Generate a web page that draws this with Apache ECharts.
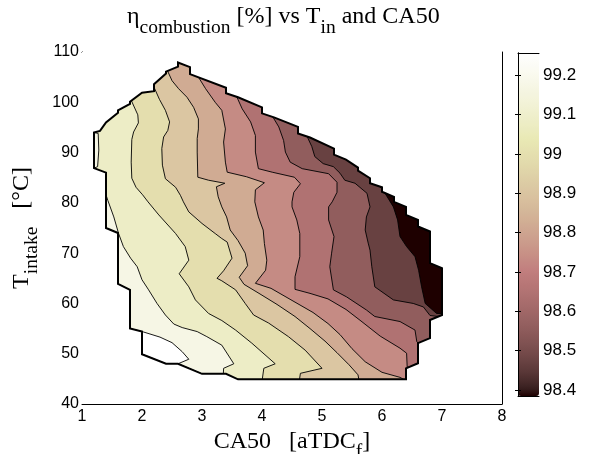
<!DOCTYPE html>
<html>
<head>
<meta charset="utf-8">
<script src="https://cdn.jsdelivr.net/npm/echarts@6/dist/echarts.min.js"></script>
<style>
  html, body { margin: 0; padding: 0; background: #fff; }
  #chart { width: 593px; height: 454px; }
</style>
</head>
<body>
<div id="chart"></div>
<script>
// data region boundary [CA50, T]
var domain = [[1.2,94.0],[1.3,94.3],[1.4,96.0],[1.6,97.9],[1.6,98.4],[1.8,99.7],[1.8,100.1],[2.0,101.9],[2.2,102.2],[2.2,103.6],[2.4,105.7],[2.4,106.1],[2.6,107.1],[2.6,107.9],[2.8,107.0],[2.8,105.6],[3.4,102.9],[3.4,101.8],[3.6,101.0],[4.0,99.0],[4.0,97.8],[4.2,97.0],[4.6,95.1],[4.6,93.8],[4.8,93.0],[5.2,90.8],[5.2,89.6],[5.4,88.6],[5.6,87.0],[5.6,86.4],[5.8,84.9],[5.8,83.9],[6.0,83.1],[6.0,82.2],[6.2,81.2],[6.2,80.2],[6.4,79.2],[6.4,77.6],[6.6,76.6],[6.6,75.3],[6.8,74.3],[6.8,68.0],[7.0,67.0],[7.0,57.7],[6.8,56.7],[6.8,53.1],[6.6,52.1],[6.6,48.1],[6.4,47.1],[6.4,44.9],[3.6,44.9],[3.4,46.0],[3.0,46.0],[2.6,48.0],[2.4,48.0],[2.0,49.9],[2.0,54.4],[1.8,55.0],[1.8,62.7],[1.6,63.9],[1.6,74.0],[1.4,75.0],[1.4,86.0],[1.2,86.9]];
// white (unfilled) pocket
var hole = [[2.0,54.4],[2.0,49.9],[2.4,48.0],[2.6,48.0],[2.78,48.9],[2.67,50.4],[2.5,52.2],[2.3,53.3],[2.03,54.3]];
// small piece of the lightest band at the top left
var sliver = [[1.2,94.0],[1.27,93.8],[1.28,90.5],[1.26,87.2],[1.2,86.9]];

// contour lines, from lightest to darkest
var line1 = [[1.1,81.6],[1.4,81.6],[1.43,80.5],[1.53,77.2],[1.61,73.9],[1.69,71.3],[1.81,69.0],[1.92,67.3],[2.0,64.7],[2.11,62.7],[2.25,60.0],[2.39,57.7],[2.53,55.9],[2.67,55.2],[2.92,54.4],[3.08,53.4],[3.33,51.7],[3.53,48.0],[3.36,47.1],[3.35,44.5]];
var line2 = [[1.82,100.4],[1.93,97.5],[1.94,95.9],[1.86,94.1],[1.83,92.6],[1.82,88.1],[1.83,84.9],[1.90,83.1],[2.01,81.6],[2.10,80.2],[2.28,77.6],[2.56,73.9],[2.72,71.3],[2.78,68.6],[2.62,65.9],[2.78,63.3],[2.89,60.7],[3.11,58.0],[3.33,56.6],[3.56,54.7],[3.83,52.1],[4.22,48.0],[4.03,47.1],[4.0,44.5]];
var line3 = [[2.2,103.0],[2.29,100.6],[2.39,98.4],[2.46,96.1],[2.43,94.4],[2.36,93.1],[2.33,90.8],[2.34,87.5],[2.39,84.8],[2.56,83.1],[2.64,81.5],[2.69,80.2],[2.78,78.2],[3.0,75.9],[3.22,73.9],[3.33,72.9],[3.42,72.2],[3.5,69.0],[3.36,66.5],[3.25,65.0],[3.33,64.5],[3.56,62.7],[3.72,60.0],[3.86,57.7],[4.11,56.1],[4.44,53.4],[4.72,50.7],[5.0,47.1],[4.64,46.1],[4.62,44.5]];
var line4 = [[2.42,106.4],[2.5,104.3],[2.61,102.7],[2.75,101.0],[2.86,99.0],[2.94,96.7],[2.94,94.7],[2.92,92.8],[2.92,90.1],[2.93,85.1],[3.11,84.5],[3.38,83.9],[3.24,83.2],[3.27,81.2],[3.33,79.2],[3.41,77.2],[3.47,74.6],[3.6,72.5],[3.72,70.0],[3.76,67.5],[3.62,65.2],[3.7,63.8],[3.95,62.0],[4.25,59.8],[4.55,57.4],[4.8,55.0],[5.05,52.5],[5.25,50.2],[5.45,47.8],[5.6,45.8],[5.62,44.5]];
var line5 = [[2.92,105.4],[3.06,102.7],[3.22,100.0],[3.33,98.4],[3.39,94.7],[3.36,92.1],[3.39,88.1],[3.42,86.1],[3.74,85.2],[4.04,84.0],[3.89,82.6],[3.88,80.2],[3.94,77.2],[4.02,74.6],[4.04,71.9],[4.08,68.6],[4.06,66.6],[3.89,64.0],[4.15,63.0],[4.5,60.6],[4.85,58.2],[5.1,56.0],[5.3,53.8],[5.5,51.0],[5.72,48.4],[6.0,46.3],[6.3,45.3],[6.42,44.5]];
var line6 = [[3.56,101.6],[3.67,98.7],[3.81,96.1],[3.89,93.4],[3.89,90.1],[3.94,86.8],[4.17,86.1],[4.54,85.1],[4.64,83.8],[4.53,82.1],[4.5,80.2],[4.5,79.2],[4.58,76.6],[4.63,73.9],[4.63,69.3],[4.55,65.3],[4.55,62.8],[4.8,62.0],[5.1,60.9],[5.4,58.8],[5.65,56.5],[5.97,53.5],[6.3,51.1],[6.41,50.1],[6.42,47.3]];
var line7 = [[4.17,97.3],[4.28,95.1],[4.36,92.4],[4.39,90.1],[4.47,88.1],[4.67,86.8],[5.11,85.8],[5.25,84.1],[5.25,82.1],[5.17,80.2],[5.11,79.2],[5.11,76.6],[5.2,73.3],[5.16,70.0],[5.13,67.3],[5.19,62.7],[5.41,61.3],[5.74,58.7],[5.88,57.4],[6.3,56.4],[6.55,54.7],[6.58,52.4],[6.61,52.0]];
var line8 = [[4.74,93.5],[4.83,91.2],[4.88,89.2],[5.02,87.8],[5.19,87.2],[5.3,85.9],[5.38,84.5],[5.55,83.9],[5.75,81.9],[5.8,79.2],[5.74,77.2],[5.72,74.6],[5.77,72.0],[5.8,70.6],[5.83,67.3],[5.88,63.3],[6.19,60.7],[6.52,60.0],[6.69,59.3],[6.8,57.6],[6.94,57.4]];
var line9 = [[5.58,87.3],[5.8,85.2],[6.02,82.5],[6.19,79.2],[6.26,76.6],[6.3,73.3],[6.41,71.3],[6.55,69.3],[6.61,66.6],[6.66,63.3],[6.72,60.0],[6.91,58.0],[7.01,58.0]];

// band colour values (pink colormap, caxis 98.385..99.256), lightest first
var bandValues = [99.169, 99.082, 98.995, 98.908, 98.820, 98.733, 98.646, 98.559, 98.472, 98.385];
var cbarTicks = [98.4, 98.5, 98.6, 98.7, 98.8, 98.9, 99, 99.1, 99.2];
var cbarMin = 98.385, cbarMax = 99.256;

// MATLAB pink(64)
function pinkMap(m) {
    var n = Math.floor(3 / 8 * m), out = [];
    for (var i = 1; i <= m; i++) {
        var g0 = (i - 1) / (m - 1);
        var hr = i <= n ? i / n : 1;
        var hg = i <= n ? 0 : (i <= 2 * n ? (i - n) / n : 1);
        var hb = i <= 2 * n ? 0 : (i - 2 * n) / (m - 2 * n);
        var c = [hr, hg, hb].map(function (h) { return Math.round(255 * Math.sqrt((2 * g0 + h) / 3)); });
        out.push('rgb(' + c.join(',') + ')');
    }
    return out;
}

// region right of / below a contour line, closed outside the data region
function rightOf(line) {
    var first = line[0], last = line[line.length - 1];
    return [[first[0], 125]].concat(line, [[10, last[1]], [10, 125]]);
}

var lines = [line1, line2, line3, line4, line5, line6, line7, line8, line9];
var polys = [domain];
var polyValues = [bandValues[0]];
lines.forEach(function (ln, i) {
    polys.push(rightOf(ln));
    polyValues.push(bandValues[i + 1]);
    if (i === 0) { polys.push(sliver); polyValues.push(bandValues[0]); }
});

var chart = echarts.init(document.getElementById('chart'));
var serif = 'Liberation Serif';
var sans = 'Liberation Sans';

function toPts(api, arr) { return arr.map(function (p) { return api.coord(p); }); }

// TeX-like subscripts
function subRich(big, small, lift) {
    return {
        m: { fontFamily: serif, fontSize: big, fontWeight: 'normal', color: '#000', verticalAlign: 'bottom', padding: [0, 0, lift, 0] },
        s: { fontFamily: serif, fontSize: small, fontWeight: 'normal', color: '#000', verticalAlign: 'bottom' }
    };
}

var axisCommon = {
    axisLine: { lineStyle: { color: '#000', width: 1 } },
    axisTick: { inside: true, length: 5, lineStyle: { color: '#000' } },
    splitLine: { show: false }
};

chart.setOption({
    animation: false,
    backgroundColor: '#fff',
    title: {
        text: '{m|η}{s|combustion}{m| [%] vs T}{s|in}{m| and CA50}',
        left: 127, top: 5, padding: 0,
        textStyle: { fontFamily: serif, fontWeight: 'normal', color: '#000', rich: subRich(24, 19.5, 9) }
    },
    grid: [
        { left: 82, top: 52, width: 420, height: 352, outerBoundsMode: 'none' },
        { left: 518, top: 53, width: 21, height: 343, outerBoundsMode: 'none' }
    ],
    visualMap: {
        type: 'continuous', seriesIndex: 0, dimension: 1,
        min: cbarMin, max: cbarMax, calculable: false,
        left: 518, top: 53, itemWidth: 21, itemHeight: 343, padding: 0,
        text: null, inRange: { color: pinkMap(64) }
    },
    xAxis: [
        Object.assign({}, axisCommon, {
            gridIndex: 0, type: 'value', position: 'bottom', min: 1, max: 8, interval: 1,
            axisLabel: { color: '#000', fontFamily: sans, fontSize: 16, margin: 5 },
            name: '{m|CA50   [aTDC}{s|f}{m|]}', nameLocation: 'middle', nameGap: 15,
            nameTextStyle: { fontFamily: serif, color: '#000', rich: subRich(24, 19.5, 8) }
        }),
        Object.assign({}, axisCommon, {
            gridIndex: 0, type: 'value', position: 'top', min: 1, max: 8, interval: 1,
            axisLabel: { show: false }
        }),
        { gridIndex: 1, type: 'value', position: 'bottom', min: 0, max: 1, z: 10,
          axisLine: { lineStyle: { color: '#000' } }, axisTick: { show: false }, axisLabel: { show: false }, splitLine: { show: false } },
        { gridIndex: 1, type: 'value', position: 'top', min: 0, max: 1, z: 10,
          axisLine: { lineStyle: { color: '#000' } }, axisTick: { show: false }, axisLabel: { show: false }, splitLine: { show: false } }
    ],
    yAxis: [
        Object.assign({}, axisCommon, {
            gridIndex: 0, type: 'value', position: 'left', min: 40, max: 110, interval: 10,
            axisLabel: { color: '#000', fontFamily: sans, fontSize: 16, margin: 3 },
            name: '{m|T}{s|intake}{m|   [°C]}', nameLocation: 'middle', nameGap: 36, nameRotate: 90,
            nameTextStyle: { fontFamily: serif, color: '#000', rich: subRich(24, 19.5, 8) }
        }),
        Object.assign({}, axisCommon, {
            gridIndex: 0, type: 'value', position: 'right', min: 40, max: 110, interval: 10,
            axisLabel: { show: false }
        }),
        { gridIndex: 1, type: 'value', position: 'right', min: cbarMin, max: cbarMax, z: 10,
          axisLine: { lineStyle: { color: '#000' } },
          axisTick: { inside: true, length: 3, customValues: cbarTicks, lineStyle: { color: '#000' } },
          axisLabel: { color: '#000', fontFamily: sans, fontSize: 17, margin: 4, customValues: cbarTicks },
          splitLine: { show: false } },
        { gridIndex: 1, type: 'value', position: 'left', min: cbarMin, max: cbarMax, z: 10,
          axisLine: { lineStyle: { color: '#000' } },
          axisTick: { inside: true, length: 3, customValues: cbarTicks, lineStyle: { color: '#000' } },
          axisLabel: { show: false }, splitLine: { show: false } }
    ],
    series: [
        {
            // filled contour bands, painted lightest first
            type: 'custom', xAxisIndex: 0, yAxisIndex: 0, clip: true,
            data: polyValues.map(function (v, i) { return [i, v]; }),
            renderItem: function (params, api) {
                var poly = polys[api.value(0)];
                return {
                    type: 'polygon',
                    shape: { points: toPts(api, poly) },
                    style: { fill: api.visual('color'), stroke: '#000', lineWidth: 0.9 }
                };
            }
        },
        {
            // white pocket, mask outside the data region, region outline
            type: 'custom', xAxisIndex: 0, yAxisIndex: 0, clip: true,
            data: [[0, 0]],
            renderItem: function (params, api) {
                var outer = [[1, 40], [8, 40], [8, 110], [1, 110], [1, 40]];
                var maskPts = toPts(api, outer.concat(domain, [domain[0], [1, 40]]));
                return {
                    type: 'group',
                    children: [
                        { type: 'polygon', shape: { points: toPts(api, hole) }, style: { fill: '#fff', stroke: '#000', lineWidth: 0.9 } },
                        { type: 'polygon', shape: { points: maskPts }, style: { fill: '#fff', stroke: null } },
                        { type: 'polygon', shape: { points: toPts(api, domain) }, style: { fill: null, stroke: '#000', lineWidth: 2 } }
                    ]
                };
            }
        }
    ]
});
</script>
</body>
</html>
